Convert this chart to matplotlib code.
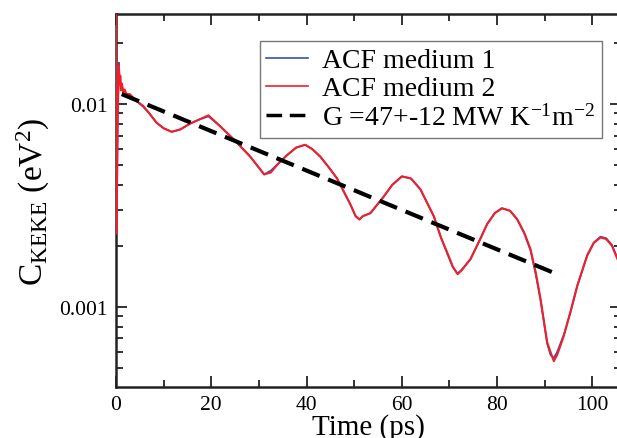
import matplotlib
matplotlib.use("Agg")
import matplotlib.pyplot as plt
from matplotlib.ticker import MultipleLocator, LogLocator, NullFormatter, FixedLocator, FixedFormatter

plt.rcParams['font.family'] = ['Liberation Serif', 'DejaVu Serif']
plt.rcParams['mathtext.fontset'] = 'custom'
plt.rcParams['mathtext.rm'] = 'Liberation Serif'
plt.rcParams['mathtext.it'] = 'Liberation Serif:italic'

# values
time_ps = [0.0, 0.12, 0.35, 0.6, 0.75, 0.9, 1.05, 1.25, 1.5, 1.8, 2.2, 2.9, 4.2, 5.7, 7.0, 8.5, 10.0,
           11.7, 13.5, 15.5, 17.5, 19.4, 21.8, 25.0, 28.2, 31.1, 32.5, 34.1, 35.9, 37.8, 39.7,
           41.2, 42.9, 44.6, 46.4, 49.2, 50.3, 51.1, 51.8, 53.4, 56.2, 58.0, 60.0, 61.9, 63.9,
           66.7, 68.2, 69.5, 70.7, 71.7, 72.6, 74.4, 76.2, 77.9, 79.5, 81.0, 82.7, 84.2, 85.7,
           87.0, 88.1, 89.1, 90.5, 91.2, 91.9, 92.6, 94.0, 95.4, 96.8, 98.9, 100.3, 101.7,
           102.9, 104.1, 105.5]
acf_medium_2 = [0.030, 0.0023, 0.0085, 0.0155, 0.0125, 0.0138, 0.0117, 0.0126, 0.0114, 0.0118, 0.0112,
                0.0112, 0.0104, 0.0098, 0.0090, 0.0081, 0.0076, 0.0073, 0.0075, 0.0080, 0.0084,
                0.0088, 0.0078, 0.0066, 0.0055, 0.0045, 0.0046, 0.0051, 0.0056, 0.0061, 0.0063,
                0.0060, 0.0055, 0.0049, 0.0043, 0.0032, 0.0028, 0.0027, 0.0028, 0.0029, 0.0035,
                0.0040, 0.0044, 0.0043, 0.0038, 0.0028, 0.0022, 0.00186, 0.00158, 0.00145, 0.00152,
                0.00172, 0.00210, 0.00256, 0.00290, 0.00306, 0.00298, 0.00271, 0.00232, 0.00193,
                0.00148, 0.00110, 0.00067, 0.00060, 0.00054, 0.00058, 0.00072, 0.00095, 0.00127,
                0.00179, 0.00207, 0.00220, 0.00216, 0.00200, 0.00167]
acf_medium_1 = [0.030, 0.0023, 0.0090, 0.0160, 0.0128, 0.0134, 0.0119, 0.0124, 0.0115, 0.0117, 0.0112,
                0.0111, 0.0104, 0.0097, 0.0090, 0.0081, 0.0076, 0.0073, 0.0075, 0.0080, 0.0084,
                0.0087, 0.0078, 0.0066, 0.0055, 0.0045, 0.0047, 0.0051, 0.0056, 0.0061, 0.0063,
                0.0060, 0.0055, 0.0049, 0.0043, 0.0032, 0.0028, 0.0027, 0.0028, 0.0029, 0.0035,
                0.0040, 0.0044, 0.0043, 0.0038, 0.0028, 0.0022, 0.00184, 0.00157, 0.00146, 0.00153,
                0.00172, 0.00210, 0.00256, 0.00290, 0.00307, 0.00298, 0.00270, 0.00230, 0.00190,
                0.00145, 0.00108, 0.00066, 0.00058, 0.00056, 0.00060, 0.00073, 0.00094, 0.00126,
                0.00180, 0.00208, 0.00222, 0.00218, 0.00202, 0.00168]

fit_time = [1.2, 92.9]
fit_acf = [0.0112, 0.00144]

fig = plt.figure(figsize=(6.17, 4.39), dpi=100)
ax = fig.add_axes([0.188, 0.1162, 0.8185, 0.8496])

ax.plot(time_ps, acf_medium_1, color='#3553b0', lw=1.3, label='ACF medium 1', zorder=3)
ax.plot(time_ps, acf_medium_2, color='#f0202a', lw=1.5, label='ACF medium 2', zorder=3)
ax.plot(fit_time, fit_acf, color='black', lw=3, dashes=(4.5, 2.2), label='G =47+-12 MW K$^{-1}$m$^{-2}$',
        zorder=4)

ax.set_yscale('log')
ax.set_xlim(0, 106)
ax.set_ylim(0.000403, 0.0278)

ax.xaxis.set_major_locator(MultipleLocator(20))
ax.xaxis.set_minor_locator(MultipleLocator(10))
ax.yaxis.set_major_locator(FixedLocator([0.001, 0.01]))
ax.yaxis.set_major_formatter(FixedFormatter(['0.001', '0.01']))
ax.yaxis.set_minor_locator(LogLocator(base=10, subs=range(2, 10)))
ax.yaxis.set_minor_formatter(NullFormatter())

ax.tick_params(which='both', direction='in', top=True, right=True, labelsize=15.5, width=1.3, color='#222222')
ax.tick_params(which='major', length=8, pad=6)
ax.tick_params(which='minor', length=5)
for s in ax.spines.values():
    s.set_linewidth(1.8)
    s.set_color('#222222')

ax.set_xlabel('Time (ps)', fontsize=21, labelpad=-1)
ax.set_ylabel(r'C$_{\mathrm{KEKE}}$ (eV$^2$)', fontsize=24, labelpad=5)

leg = ax.legend(loc='upper right', bbox_to_anchor=(0.962, 0.928), borderaxespad=0, fontsize=20,
                frameon=True, fancybox=False, handlelength=1.5, handletextpad=0.5,
                labelspacing=0.1, borderpad=0.25)
leg.get_frame().set_edgecolor('#555555')
leg.get_frame().set_linewidth(1.0)
for h in leg.get_lines()[:2]:
    h.set_linewidth(1.2)
leg.get_lines()[2].set_linewidth(2.5)

fig.savefig('out.png', dpi=100)
